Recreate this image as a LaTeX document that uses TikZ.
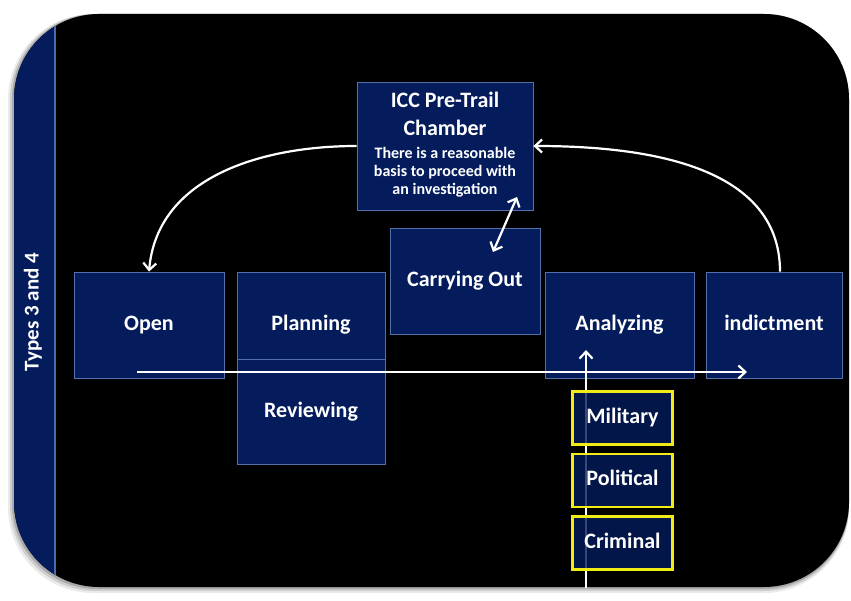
\documentclass[tikz,border=0pt]{standalone}
\usepackage{fontspec}
\setmainfont{Carlito}
\usepackage{tikz}
\usetikzlibrary{shapes}
\usetikzlibrary{arrows}
\usetikzlibrary{arrows.meta}
\usetikzlibrary{positioning}
\definecolor{stageBody}{RGB}{4,28,92}
\definecolor{stageBorder}{RGB}{84,112,170}
\definecolor{stripLine}{RGB}{72,108,176}
\definecolor{factorBorder}{RGB}{240,236,20}
\tikzstyle{stage} = [rectangle, fill=stageBody, draw=stageBorder, line width=0.8pt, text=white,
        font={\fontsize{22}{26}\selectfont\bfseries}, inner sep=0pt, text height=15pt, text depth=4pt,
        minimum width=150pt, minimum height=106pt]
\tikzstyle{factor} = [rectangle, fill=stageBody, fill opacity=0.8, text opacity=1, draw=factorBorder,
        line width=2.4pt, text=white, font={\fontsize{22}{26}\selectfont\bfseries}, inner sep=0pt,
        text height=15pt, text depth=4pt, minimum width=100pt, minimum height=53pt]
\tikzstyle{flow} = [draw=white, line width=2.2pt, -{Straight Barb[length=7pt,width=13pt]}]
\tikzstyle{twoway} = [draw=white, line width=2.2pt, {Straight Barb[length=7pt,width=13pt]}-{Straight Barb[length=7pt,width=13pt]}]
\newcommand{\bigline}[1]{{\fontsize{22}{26}\selectfont #1}}
\begin{document}
\begin{tikzpicture}[x=1pt, y=-1pt]
            \useasboundingbox (0,0) rectangle (851,601);
            \foreach \s/\o in {6/0.08, 4/0.12, 2/0.18} {
                \fill[black, opacity=\o, rounded corners=85pt] (14-\s,14) rectangle (849,587+\s);
            }
            \fill[black, rounded corners=85pt] (14,14) rectangle (849,587);
            \begin{scope}
                \clip[rounded corners=85pt] (14,14) rectangle (849,587);
                \fill[stageBody] (14,14) rectangle (55,587);
                \draw[stripLine, line width=1.2pt] (55,14) -- (55,587);
            \end{scope}
            \node [text=white, rotate=90, font={\fontsize{21}{24}\selectfont\bfseries}] (types) at (33,312) {Types 3 and 4};
            \node [stage, minimum width=176pt, minimum height=128pt, text height=, text depth=,
                   font={\fontsize{16}{18}\selectfont\bfseries}] (icc) at (445,146)
                {\begin{tabular}{@{}c@{}}
                 \bigline{ICC Pre-Trail}\\[7.5pt]
                 \bigline{Chamber}\\[5pt]
                 There is a reasonable\\
                 basis to proceed with\\
                 an investigation
                 \end{tabular}};
            \node [stage] (carry) at (465,281) {Carrying Out};
            \node [stage] (open) at (149,325) {Open};
            \node [stage, minimum width=148pt] (plan) at (311,325) {Planning};
            \node [stage, minimum width=148pt, minimum height=105pt] (review) at (311,411.5) {Reviewing};
            \node [stage, minimum width=149pt] (analyze) at (619.5,325) {Analyzing};
            \node [stage, minimum width=136pt] (indict) at (774,325) {indictment};
            \coordinate (flowstart) at (137,372);
            \coordinate (flowend) at (747,372);
            \coordinate (rootstart) at (586,588);
            \coordinate (rootend) at (586,350);
            \coordinate (iccnear) at (517,197);
            \coordinate (carrynear) at (493,252);
            \draw [flow] (icc.west) to[out=180, in=85] (open.north);
            \draw [flow] ([xshift=6pt]indict.north) to[out=90, in=0] (icc.east);
            \draw [twoway] (iccnear) -- (carrynear);
            \draw [flow] (rootstart) -- (rootend);
            \node [factor] (military) at (622.5,418) {Military};
            \node [factor, below=7pt of military] (political) {Political};
            \node [factor, below=7pt of political] (criminal) {Criminal};
            \draw [flow] (flowstart) -- (flowend);
        \end{tikzpicture}
\end{document}
